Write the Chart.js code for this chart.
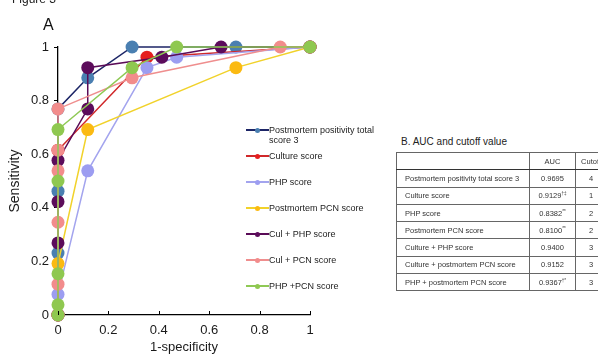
<!DOCTYPE html>
<html>
<head>
<meta charset="utf-8">
<script src="https://cdn.jsdelivr.net/npm/chart.js@4/dist/chart.umd.min.js"></script>
<style>
  html, body { margin: 0; padding: 0; background: #fff; width: 598px; height: 357px; overflow: hidden; font-family: "Liberation Sans", Arial, sans-serif; }
  #wrap { position: relative; width: 598px; height: 357px; }
  #chartBox { position: absolute; left: 0; top: 0; width: 330px; height: 357px; }
  #fig { position: absolute; left: 12px; top: -7px; font-size: 12px; line-height: 12px; color: #222; }
  #panelA { position: absolute; left: 43px; top: 16px; font-size: 16px; line-height: 18px; color: #111; }
  #legend { position: absolute; left: 246px; top: 0; font-size: 9px; color: #222; }
  .item { position: absolute; left: 0; white-space: nowrap; line-height: 10px; }
  .sym { position: absolute; left: 0; top: 0; width: 23px; height: 10px; }
  .sym .ln { position: absolute; left: 0; top: 4px; width: 23px; height: 2px; }
  .sym .dt { position: absolute; left: 9px; top: 2.5px; width: 5px; height: 5px; border-radius: 50%; }
  .txt { position: absolute; left: 23px; top: 0; }
  #titleB { position: absolute; left: 401px; top: 136px; font-size: 10px; line-height: 12px; color: #222; }
  #tblBox { position: absolute; left: 396px; top: 152px; width: 210px; }
  table { border-collapse: collapse; table-layout: fixed; width: 210px; font-size: 7.5px; color: #333; border: 1.5px solid #333; }
  td { height: 16.3px; padding: 0; border: 1px solid #666; vertical-align: middle; }
  td.n { padding-left: 8px; text-align: left; white-space: nowrap; overflow: hidden; }
  td.c { text-align: center; white-space: nowrap; }
  tr.h td { border-bottom: 1.5px solid #333; }
  sup { font-size: 4.5px; vertical-align: 3px; line-height: 0; }
</style>
</head>
<body>
<div id="wrap">
  <div id="chartBox"><canvas id="c" width="330" height="357"></canvas></div>
  <div id="fig">Figure 3</div>
  <div id="panelA">A</div>
  <div id="legend"></div>
  <div id="titleB">B. AUC and cutoff value</div>
  <div id="tblBox"></div>
</div>
<script>
// ---- Data (x = 1-specificity, y = sensitivity) ----
const seriesNames = [
  'Postmortem positivity total score 3',
  'Culture score',
  'PHP score',
  'Postmortem PCN score',
  'Cul + PHP score',
  'Cul + PCN score',
  'PHP +PCN score'
];
const legendLines = [
  ['Postmortem positivity total', 'score 3'],
  ['Culture score'],
  ['PHP score'],
  ['Postmortem PCN score'],
  ['Cul + PHP score'],
  ['Cul + PCN score'],
  ['PHP +PCN score']
];
const posX   = [0, 0, 0, 0, 0.118, 0.294, 0.706, 1];
const posY   = [0, 0.231, 0.462, 0.769, 0.885, 1, 1, 1];
const culX   = [0, 0, 0.353, 1];
const culY   = [0, 0.615, 0.962, 1];
const phpX   = [0, 0, 0.118, 0.353, 0.471, 1];
const phpY   = [0, 0.077, 0.538, 0.923, 0.962, 1];
const pcnX   = [0, 0, 0.118, 0.706, 1];
const pcnY   = [0, 0.192, 0.692, 0.923, 1];
const cphpX  = [0, 0, 0, 0, 0.118, 0.118, 0.412, 0.647, 1];
const cphpY  = [0, 0.269, 0.423, 0.577, 0.769, 0.923, 0.962, 1, 1];
const cpcnX  = [0, 0, 0, 0, 0, 0, 0.294, 0.882, 1];
const cpcnY  = [0, 0.115, 0.346, 0.538, 0.615, 0.769, 0.885, 1, 1];
const ppX    = [0, 0, 0, 0, 0, 0.294, 0.471, 1];
const ppY    = [0, 0.038, 0.154, 0.5, 0.692, 0.923, 1, 1];

const xTickLabels = ['0', '0.2', '0.4', '0.6', '0.8', '1'];
const yTickLabels = ['0', '0.2', '0.4', '0.6', '0.8', '1'];

// table B
const tableRows = ['Postmortem positivity total score 3', 'Culture score', 'PHP score', 'Postmortem PCN score',
  'Culture + PHP score', 'Culture + postmortem PCN score', 'PHP + postmortem PCN score'];
const aucValues = ['0.9695', '0.9129', '0.8382', '0.8100', '0.9400', '0.9152', '0.9367'];
const aucMarks  = ['', '†‡', '**', '**', '', '', '†*'];
const cutoffs   = ['4', '1', '2', '2', '3', '3', '3'];

// ---- styles ----
const lineColors   = ['#1c2566', '#d0282a', '#a3a4ee', '#f1d22a', '#5a0b57', '#ef8e8e', '#8fc955'];
const markerColors = ['#4a7fb1', '#e51f1f', '#9c9df1', '#fbba12', '#5c0c5b', '#f28c8c', '#8fc850'];

const xs = [posX, culX, phpX, pcnX, cphpX, cpcnX, ppX];
const ys = [posY, culY, phpY, pcnY, cphpY, cpcnY, ppY];

const datasets = seriesNames.map((name, i) => ({
  label: name,
  data: xs[i].map((x, k) => ({ x: x, y: ys[i][k] })),
  borderColor: lineColors[i],
  backgroundColor: markerColors[i],
  pointBackgroundColor: markerColors[i],
  pointBorderColor: markerColors[i],
  pointBorderWidth: 0,
  pointRadius: 6.5,
  borderWidth: 1.5,
  tension: 0,
  fill: false,
  clip: false,
  order: seriesNames.length - i
}));

const innerTicks = {
  id: 'innerTicks',
  afterDraw(chart) {
    const ctx = chart.ctx, xs = chart.scales.x;
    ctx.save();
    ctx.strokeStyle = '#000';
    ctx.lineWidth = 1;
    xs.ticks.forEach(t => {
      const px = Math.round(xs.getPixelForValue(t.value)) + 0.5;
      ctx.beginPath();
      ctx.moveTo(px, xs.top);
      ctx.lineTo(px, xs.top - 4);
      ctx.stroke();
    });
    ctx.restore();
  }
};

Chart.defaults.font.family = '"Liberation Sans", Arial, sans-serif';

new Chart(document.getElementById('c'), {
  type: 'line',
  data: { datasets },
  options: {
    responsive: false,
    animation: false,
    devicePixelRatio: 1,
    layout: { padding: { left: 0, right: 20, top: 47, bottom: 0 } },
    plugins: { legend: { display: false }, tooltip: { enabled: false } },
    scales: {
      x: {
        type: 'linear', min: 0, max: 1,
        afterFit(s) { s.height = 42; },
        grid: { display: true, drawOnChartArea: false, drawTicks: false, color: '#000' },
        border: { display: true, color: '#000', width: 1.3 },
        ticks: { stepSize: 0.2, padding: 8, color: '#1a1a1a', font: { size: 13 },
          callback: (v, i) => xTickLabels[i] },
        title: { display: true, text: '1-specificity', color: '#1a1a1a', font: { size: 13 }, padding: { top: 0, bottom: 2 } }
      },
      y: {
        type: 'linear', min: 0, max: 1,
        afterFit(s) { s.width = 58; },
        grid: { display: true, drawOnChartArea: false, drawTicks: true, tickLength: 4, color: '#000' },
        border: { display: true, color: '#000', width: 1.3 },
        ticks: { stepSize: 0.2, padding: 5, color: '#1a1a1a', font: { size: 13 },
          callback: (v, i) => yTickLabels[i] },
        title: { display: true, text: 'Sensitivity', color: '#1a1a1a', font: { size: 14 }, padding: { top: 7, bottom: 0 } }
      }
    }
  },
  plugins: [innerTicks]
});

// ---- legend ----
const lg = document.getElementById('legend');
legendLines.forEach((lines, i) => {
  const it = document.createElement('div');
  it.className = 'item';
  it.style.top = (125 + 26 * i) + 'px';
  it.innerHTML = '<span class="sym"><span class="ln" style="background:' + lineColors[i] + '"></span>' +
    '<span class="dt" style="background:' + markerColors[i] + '"></span></span>' +
    '<span class="txt">' + lines.join('<br>') + '</span>';
  lg.appendChild(it);
});

// ---- table ----
let html = '<table><colgroup><col style="width:133px"><col style="width:46px"><col style="width:31px"></colgroup>';
html += '<tr class="h"><td class="n"></td><td class="c">AUC</td><td class="c">Cutoff</td></tr>';
tableRows.forEach((r, i) => {
  html += '<tr><td class="n">' + r + '</td><td class="c">' + aucValues[i] +
    (aucMarks[i] ? '<sup>' + aucMarks[i] + '</sup>' : '') + '</td><td class="c">' + cutoffs[i] + '</td></tr>';
});
html += '</table>';
document.getElementById('tblBox').innerHTML = html;
</script>
</body>
</html>
